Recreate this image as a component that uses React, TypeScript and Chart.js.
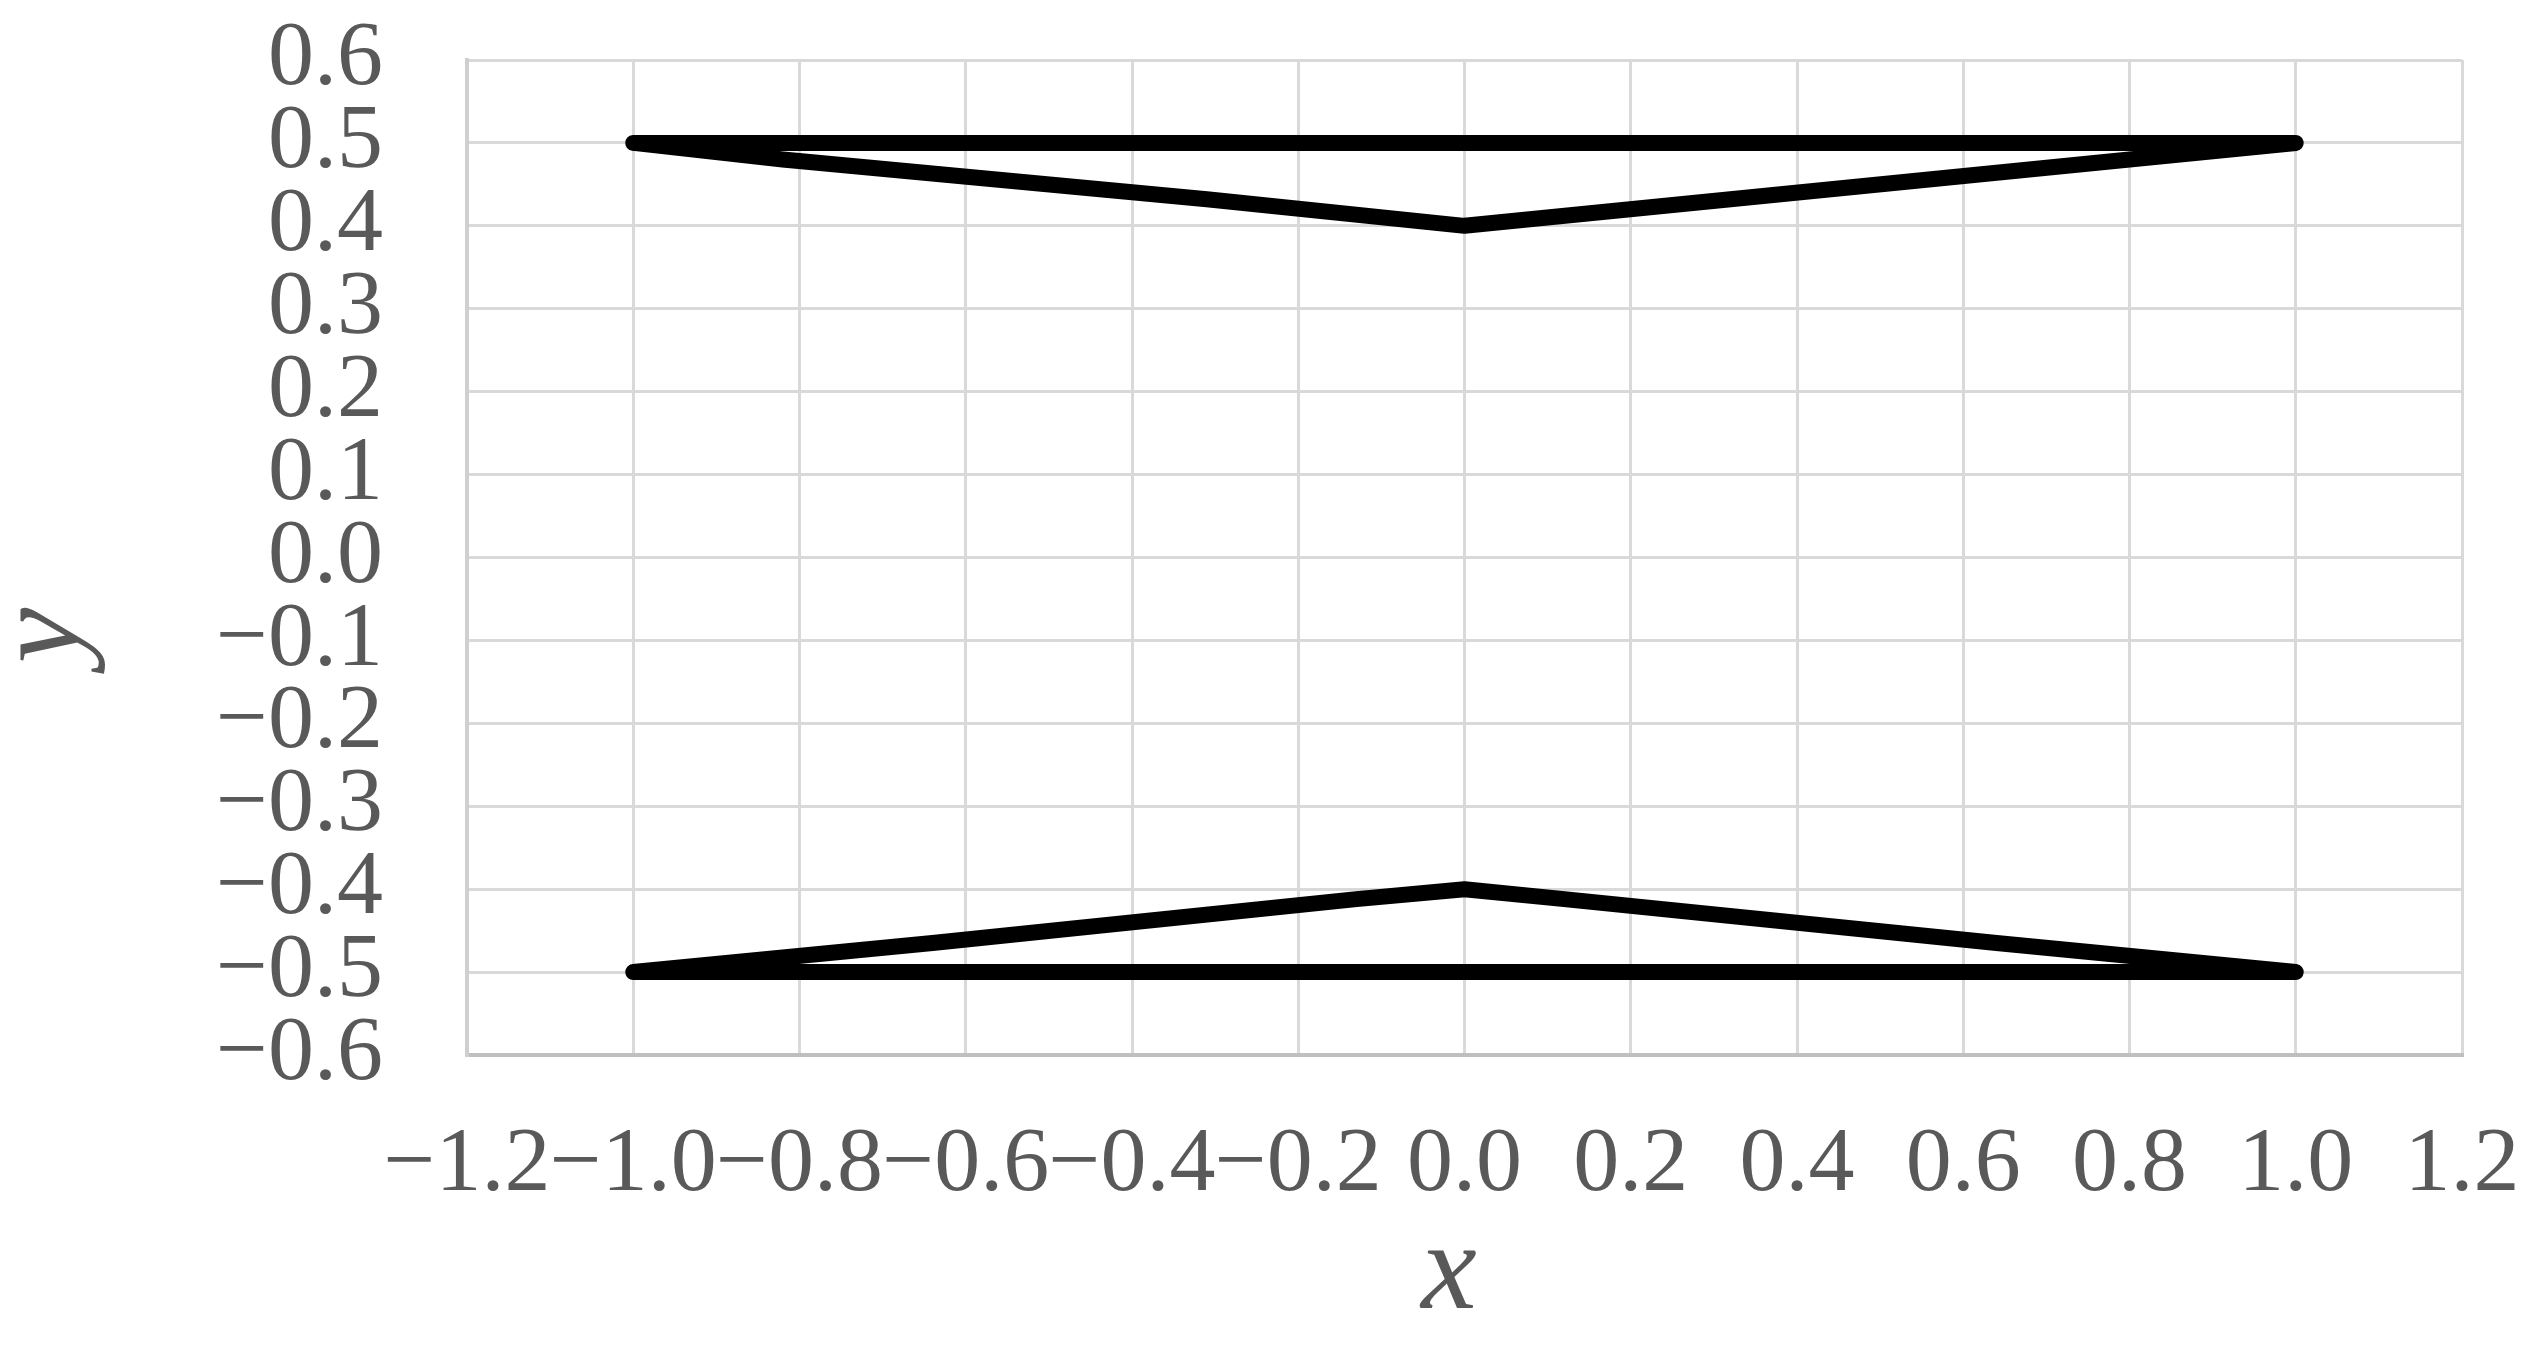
import React, { useEffect, useRef } from "react";
import { Chart, registerables } from "chart.js";

Chart.register(...registerables);

// Upper shape: sloped "V" edge and closing straight edge
const upperX = [-1.0, -0.82, -0.31, 0.0, 0.32, 0.8, 1.0, -1.0];
const upperY = [0.5, 0.48, 0.432, 0.4, 0.432, 0.48, 0.5, 0.5];

// Lower shape: sloped "Λ" edge and closing straight edge
const lowerX = [-1.0, -0.64, -0.13, 0.0, 0.12, 0.64, 1.0, -1.0];
const lowerY = [-0.5, -0.465, -0.412, -0.4, -0.412, -0.465, -0.5, -0.5];

const xMin = -1.2;
const xMax = 1.2;
const xStep = 0.2;
const yMin = -0.6;
const yMax = 0.6;
const yStep = 0.1;

const xTitle = "x ";
const yTitle = "y     ";

const W = 2545;
const H = 1349;
const PLOT_LEFT = 467;
const PLOT_TOP = 60;
const PLOT_RIGHT = 2462;
const PLOT_BOTTOM = 1055;

function fmt(v: number): string {
  const r = Math.round(v * 10) / 10;
  if (Math.abs(r) < 1e-9) return "0.0";
  const s = Math.abs(r).toFixed(1);
  return r < 0 ? "\u2212" + s : s;
}

function toPoints(xs: number[], ys: number[]) {
  return xs.map((x, i) => ({ x, y: ys[i] }));
}

function clearPadding(scale: any) {
  scale.paddingTop = 0;
  scale.paddingBottom = 0;
  scale.paddingLeft = 0;
  scale.paddingRight = 0;
}

export default function App() {
  const ref = useRef<HTMLCanvasElement | null>(null);

  useEffect(() => {
    const canvas = ref.current;
    if (!canvas) return;
    const family = "'Liberation Serif', 'Times New Roman', serif";
    const tickFont = { family, size: 92 };
    const tickColor = "#595959";
    const gridColor = "#d9d9d9";

    const lineStyle = {
      showLine: true,
      borderColor: "#000000",
      backgroundColor: "#000000",
      borderWidth: 16,
      borderCapStyle: "round",
      borderJoinStyle: "round",
      pointRadius: 0,
      pointHoverRadius: 0,
      fill: false,
      tension: 0,
    };

    const chart = new Chart(canvas, {
      type: "scatter",
      data: {
        datasets: [
          { label: "upper", data: toPoints(upperX, upperY), ...lineStyle },
          { label: "lower", data: toPoints(lowerX, lowerY), ...lineStyle },
        ],
      },
      options: {
        animation: false,
        responsive: false,
        devicePixelRatio: 1,
        layout: {
          autoPadding: false,
          padding: { top: PLOT_TOP, right: W - PLOT_RIGHT, bottom: 0, left: 0 },
        },
        plugins: {
          legend: { display: false },
          tooltip: { enabled: false },
        },
        scales: {
          x: {
            type: "linear",
            position: "bottom",
            min: xMin,
            max: xMax,
            afterFit: (scale: any) => {
              scale.height = H - PLOT_BOTTOM;
              clearPadding(scale);
            },
            ticks: {
              stepSize: xStep,
              autoSkip: false,
              maxRotation: 0,
              minRotation: 0,
              padding: 56,
              color: tickColor,
              font: tickFont,
              callback: (v: any) => fmt(Number(v)),
            },
            grid: {
              color: gridColor,
              lineWidth: 3,
              drawTicks: false,
            },
            border: { color: "#bfbfbf", width: 4 },
            title: {
              display: true,
              text: xTitle,
              color: tickColor,
              font: { family, size: 125, style: "italic", lineHeight: 1 },
              padding: { top: 0, bottom: 11 },
            },
          },
          y: {
            type: "linear",
            position: "left",
            min: yMin,
            max: yMax,
            afterFit: (scale: any) => {
              scale.width = PLOT_LEFT;
              clearPadding(scale);
            },
            ticks: {
              stepSize: yStep,
              autoSkip: false,
              padding: 84,
              color: tickColor,
              font: tickFont,
              callback: (v: any) => fmt(Number(v)),
            },
            grid: {
              color: gridColor,
              lineWidth: 3,
              drawTicks: false,
            },
            border: { color: "#cfcfcf", width: 4 },
            title: {
              display: true,
              text: yTitle,
              color: tickColor,
              font: { family, size: 125, style: "italic", lineHeight: 0.7 },
              padding: { top: 1, bottom: 0 },
            },
          },
        },
      },
    } as any);

    return () => {
      chart.destroy();
    };
  }, []);

  return (
    <div
      style={{
        position: "fixed",
        left: 0,
        top: 0,
        width: W,
        height: H,
        background: "#ffffff",
      }}
    >
      <canvas
        ref={ref}
        width={W}
        height={H}
        style={{ display: "block", width: W, height: H }}
      />
    </div>
  );
}
